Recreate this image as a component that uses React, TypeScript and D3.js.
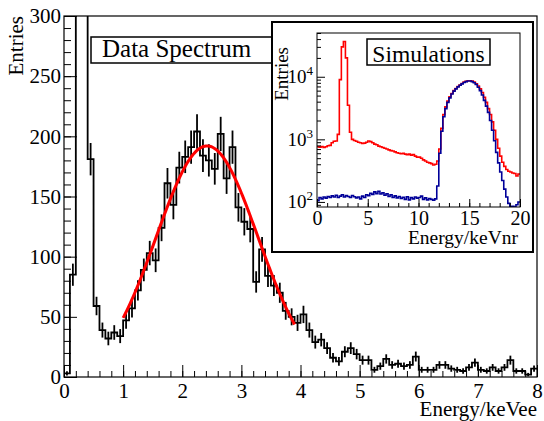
import { useEffect, useRef } from 'react';
import * as d3 from 'd3';

// measured spectrum, 0.1 keVee bins from 0 to 8
const binWidth = 0.1;
const dataCounts = [
  3, 85, 520, 430, 181, 59, 39, 32, 37, 34,
  47, 57, 72, 89, 103, 97, 124, 161, 143, 174,
  183, 191, 204, 184, 180, 173, 202, 165, 191, 141,
  129, 123, 79, 106, 84, 76, 70, 55, 50, 45,
  52, 39, 29, 31, 24, 16, 13, 21, 24, 19,
  14, 14, 6, 9, 15, 10, 11, 9, 10, 17,
  6, 6, 6, 10, 10, 7, 6, 5, 8, 12,
  6, 5, 8, 5, 8, 14, 5, 5, 2, 7,
];

// gaussian fit drawn in red
const fitAmp = 192;
const fitMean = 2.42;
const fitSigma = 0.86;
const fitRange = [1.0, 3.9];

// simulations (inset), 0.2 keVnr bins from 0 to 20
const simBinWidth = 0.2;
const simRed = [
  760, 750, 770, 740, 760, 790, 800, 880, 930, 940,
  1200, 9000, 30000, 36500, 20000, 3500, 1300, 1000, 960, 930,
  900, 880, 860, 870, 900, 940, 920, 880, 840, 820,
  780, 760, 740, 720, 700, 680, 660, 650, 630, 610,
  600, 590, 600, 580, 570, 580, 560, 570, 540, 520,
  520, 500, 470, 450, 430, 420, 410, 390, 400, 450,
  700, 1500, 2500, 3300, 4100, 4800, 5400, 6000, 6500, 7000,
  7400, 7800, 8200, 8450, 8650, 8650, 8500, 8200, 7700, 7100,
  6400, 5600, 4700, 3900, 3100, 2500, 1900, 1400, 1000, 720,
  540, 430, 370, 330, 310, 300, 290, 285, 260, 280,
];
const simBlue = [
  105, 118, 112, 120, 115, 122, 118, 125, 120, 128,
  118, 124, 130, 120, 126, 122, 118, 127, 121, 116,
  120, 112, 124, 118, 130, 126, 138, 132, 145, 136,
  148, 134, 140, 128, 135, 122, 130, 118, 125, 116,
  122, 114, 119, 110, 121, 108, 117, 112, 120, 115,
  118, 124, 110, 116, 108, 113, 110, 107, 112, 180,
  600, 1350, 2300, 3100, 3900, 4600, 5300, 5900, 6400, 6900,
  7300, 7700, 8100, 8350, 8550, 8550, 8350, 8000, 7500, 6800,
  6000, 5100, 4200, 3400, 2700, 2000, 1400, 950, 620, 420,
  300, 220, 160, 120, 95, 75, 85, 70, 90, 100,
];

const mainYTicks = [0, 50, 100, 150, 200, 250, 300];
const mainXTicks = [0, 1, 2, 3, 4, 5, 6, 7, 8];
const insetXTicks = [0, 5, 10, 15, 20];
const insetYTicks = [100, 1000, 10000];
const insetYLabels = ['2', '3', '4'];

const font = '"Liberation Serif", "Times New Roman", serif';

const App = () => {
  const ref = useRef<SVGSVGElement>(null);

  useEffect(() => {
    if (!ref.current) return;
    const svg = d3.select(ref.current);
    svg.selectAll('*').remove();
    const m = { left: 64, right: 537, top: 16, bottom: 377 };

    const x = d3.scaleLinear().domain([0, 8]).range([m.left, m.right]);
    const y = d3.scaleLinear().domain([0, 300]).range([m.bottom, m.top]);

    const defs = svg.append('defs');
    defs
      .append('clipPath')
      .attr('id', 'mainClip')
      .append('rect')
      .attr('x', m.left)
      .attr('y', m.top)
      .attr('width', m.right - m.left)
      .attr('height', m.bottom - m.top);

    const plot = svg.append('g').attr('clip-path', 'url(#mainClip)');

    // histogram outline
    const pts: [number, number][] = [[0, 0]];
    dataCounts.forEach((c, i) => pts.push([i * binWidth, c]));
    pts.push([dataCounts.length * binWidth, dataCounts[dataCounts.length - 1]]);
    const step = d3
      .line<[number, number]>()
      .x((d) => x(d[0]))
      .y((d) => y(d[1]))
      .curve(d3.curveStepAfter);
    plot
      .append('path')
      .attr('d', step(pts))
      .attr('fill', 'none')
      .attr('stroke', '#000')
      .attr('stroke-width', 1.8);

    // error bars
    plot
      .selectAll('.err')
      .data(dataCounts)
      .enter()
      .append('line')
      .attr('class', 'err')
      .attr('x1', (d, i) => x((i + 0.5) * binWidth))
      .attr('x2', (d, i) => x((i + 0.5) * binWidth))
      .attr('y1', (d) => y(d - Math.sqrt(d)))
      .attr('y2', (d) => y(d + Math.sqrt(d)))
      .attr('stroke', '#000')
      .attr('stroke-width', 1.8);

    // fit
    const fitX = d3.range(fitRange[0], fitRange[1] + 0.001, 0.02);
    const fitLine = d3
      .line<number>()
      .x((d) => x(d))
      .y((d) => y(fitAmp * Math.exp(-((d - fitMean) ** 2) / (2 * fitSigma * fitSigma))));
    plot
      .append('path')
      .attr('d', fitLine(fitX))
      .attr('fill', 'none')
      .attr('stroke', '#ff0000')
      .attr('stroke-width', 3);

    // axes
    const styleAxis = (g: any, size: number) => {
      g.select('.domain').remove();
      g.selectAll('line').attr('stroke', '#000').attr('stroke-width', 1);
      g.selectAll('text').attr('font-family', font).attr('font-size', size).attr('fill', '#000');
    };
    svg
      .append('g')
      .attr('transform', `translate(${m.left},0)`)
      .call(d3.axisLeft(y).tickValues(d3.range(0, 301, 10)).tickSize(-7).tickFormat(() => ''))
      .call((g) => styleAxis(g, 21));
    svg
      .append('g')
      .attr('transform', `translate(${m.left},0)`)
      .call(d3.axisLeft(y).tickValues(mainYTicks).tickSize(-13).tickPadding(3))
      .call((g) => styleAxis(g, 21));
    svg
      .append('g')
      .attr('transform', `translate(0,${m.bottom})`)
      .call(d3.axisBottom(x).tickValues(d3.range(0, 8.01, 0.2)).tickSize(-6).tickFormat(() => ''))
      .call((g) => styleAxis(g, 21));
    svg
      .append('g')
      .attr('transform', `translate(0,${m.bottom})`)
      .call(d3.axisBottom(x).tickValues(mainXTicks).tickSize(-12).tickPadding(6))
      .call((g) => styleAxis(g, 21));

    svg
      .append('rect')
      .attr('x', m.left)
      .attr('y', m.top)
      .attr('width', m.right - m.left)
      .attr('height', m.bottom - m.top)
      .attr('fill', 'none')
      .attr('stroke', '#000')
      .attr('stroke-width', 1.2);

    svg
      .append('text')
      .attr('transform', `translate(23,${m.top}) rotate(-90)`)
      .attr('text-anchor', 'end')
      .attr('font-family', font)
      .attr('font-size', 21)
      .text('Entries');
    svg
      .append('text')
      .attr('x', m.right)
      .attr('y', 416)
      .attr('text-anchor', 'end')
      .attr('font-family', font)
      .attr('font-size', 21)
      .text('Energy/keVee');

    // label box
    svg
      .append('rect')
      .attr('x', 91)
      .attr('y', 37)
      .attr('width', 186)
      .attr('height', 26)
      .attr('fill', '#fff')
      .attr('stroke', '#000')
      .attr('stroke-width', 1.5);
    svg
      .append('text')
      .attr('x', 102)
      .attr('y', 56.5)
      .attr('font-family', font)
      .attr('font-size', 25)
      .text('Data Spectrum');

    // ---- inset ----
    const inset = svg.append('g');
    inset
      .append('rect')
      .attr('x', 272)
      .attr('y', 22)
      .attr('width', 261)
      .attr('height', 230)
      .attr('fill', '#fff')
      .attr('stroke', '#000')
      .attr('stroke-width', 2);

    const im = { left: 317, right: 520, top: 33, bottom: 207 };
    const xi = d3.scaleLinear().domain([0, 20]).range([im.left, im.right]);
    const yi = d3.scaleLog().domain([83, 50000]).range([im.bottom, im.top]);

    defs
      .append('clipPath')
      .attr('id', 'insetClip')
      .append('rect')
      .attr('x', im.left)
      .attr('y', im.top)
      .attr('width', im.right - im.left)
      .attr('height', im.bottom - im.top);

    const iplot = inset.append('g').attr('clip-path', 'url(#insetClip)');
    const istep = d3
      .line<[number, number]>()
      .x((d) => xi(d[0]))
      .y((d) => Math.min(yi(Math.max(d[1], 1)), im.bottom))
      .curve(d3.curveStepAfter);
    const simPts = (arr: number[]) => {
      const p: [number, number][] = arr.map((c, i) => [i * simBinWidth, c]);
      p.push([arr.length * simBinWidth, arr[arr.length - 1]]);
      return p;
    };
    [
      { values: simRed, color: '#ff0000' },
      { values: simBlue, color: '#000099' },
    ].forEach((s) => {
      iplot
        .append('path')
        .attr('d', istep(simPts(s.values)))
        .attr('fill', 'none')
        .attr('stroke', s.color)
        .attr('stroke-width', 1.6);
    });

    const minorLog: number[] = [];
    [10, 100, 1000, 10000].forEach((dec) => {
      for (let k = 2; k <= 9; k++) {
        const v = dec * k;
        if (v >= 83 && v <= 50000) minorLog.push(v);
      }
    });
    inset
      .append('g')
      .attr('transform', `translate(${im.left},0)`)
      .call(d3.axisLeft(yi).tickValues(minorLog).tickSize(-4).tickFormat(() => ''))
      .call((g) => styleAxis(g, 20));
    inset
      .append('g')
      .attr('transform', `translate(${im.left},0)`)
      .call(d3.axisLeft(yi).tickValues(insetYTicks).tickSize(-8).tickFormat(() => ''))
      .call((g) => styleAxis(g, 20));
    inset
      .append('g')
      .attr('transform', `translate(0,${im.bottom})`)
      .call(d3.axisBottom(xi).tickValues(d3.range(0, 21, 1)).tickSize(-4).tickFormat(() => ''))
      .call((g) => styleAxis(g, 20));
    inset
      .append('g')
      .attr('transform', `translate(0,${im.bottom})`)
      .call(d3.axisBottom(xi).tickValues(insetXTicks).tickSize(-8).tickPadding(4))
      .call((g) => styleAxis(g, 20));

    insetYTicks.forEach((v, i) => {
      const t = inset
        .append('text')
        .attr('x', im.left - 4)
        .attr('y', yi(v) + 6.5)
        .attr('text-anchor', 'end')
        .attr('font-family', font)
        .attr('font-size', 19);
      t.append('tspan').text('10');
      t.append('tspan').attr('dy', -8).attr('font-size', 13).text(insetYLabels[i]);
    });

    inset
      .append('rect')
      .attr('x', im.left)
      .attr('y', im.top)
      .attr('width', im.right - im.left)
      .attr('height', im.bottom - im.top)
      .attr('fill', 'none')
      .attr('stroke', '#000')
      .attr('stroke-width', 1);

    inset
      .append('text')
      .attr('transform', 'translate(288,47) rotate(-90)')
      .attr('text-anchor', 'end')
      .attr('font-family', font)
      .attr('font-size', 19)
      .text('Entries');
    inset
      .append('text')
      .attr('x', 518)
      .attr('y', 244)
      .attr('text-anchor', 'end')
      .attr('font-family', font)
      .attr('font-size', 19.5)
      .text('Energy/keVnr');

    inset
      .append('rect')
      .attr('x', 367)
      .attr('y', 39)
      .attr('width', 123)
      .attr('height', 26)
      .attr('fill', '#fff')
      .attr('stroke', '#000')
      .attr('stroke-width', 1.5);
    inset
      .append('text')
      .attr('x', 428.5)
      .attr('y', 61.5)
      .attr('text-anchor', 'middle')
      .attr('font-family', font)
      .attr('font-size', 23.5)
      .text('Simulations');
  }, []);

  return (
    <div>
      <svg
        ref={ref}
        width={544}
        height={421}
        style={{ position: 'absolute', left: 0, top: 0, background: '#fff' }}
      />
    </div>
  );
};

export default App;
